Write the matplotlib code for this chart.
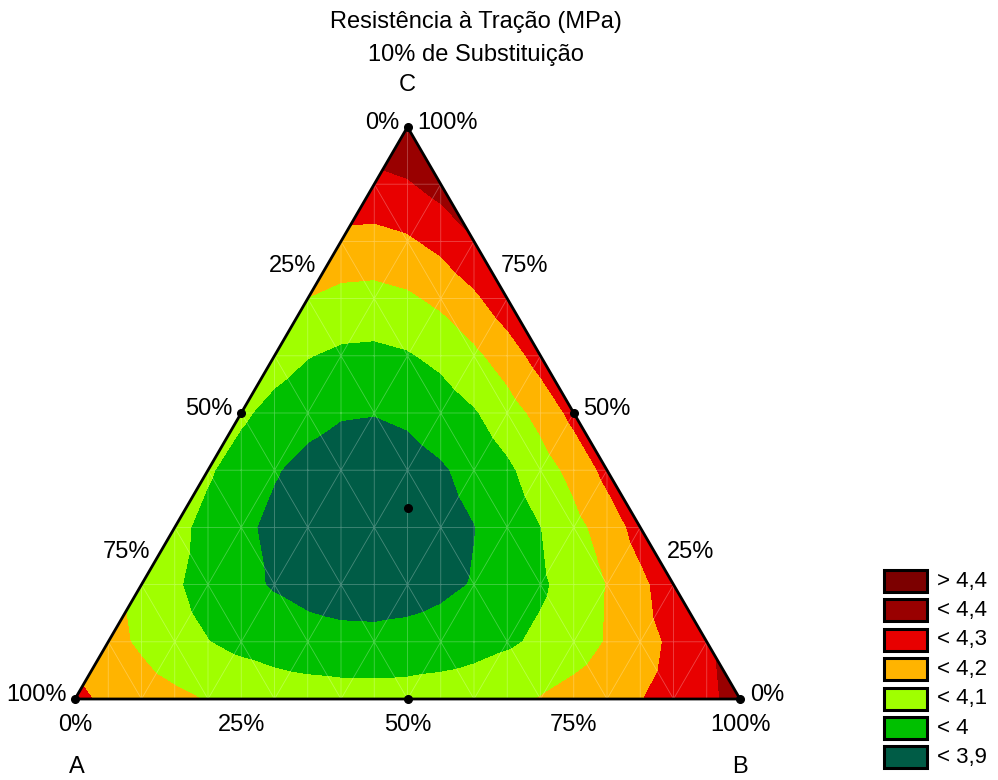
import numpy as np
import matplotlib.pyplot as plt
import matplotlib.tri as mtri
from matplotlib.patches import Rectangle

plt.rcParams['font.family'] = ['Liberation Sans', 'DejaVu Sans']

# Mixture design (simplex centroid): proportions of A, B, C and measured response
comp_A = [1.0, 0.0, 0.0, 0.5, 0.5, 0.0, 1 / 3]
comp_B = [0.0, 1.0, 0.0, 0.5, 0.0, 0.5, 1 / 3]
comp_C = [0.0, 0.0, 1.0, 0.0, 0.5, 0.5, 1 / 3]
resistencia = [4.22, 4.33, 4.39, 4.045, 4.018, 4.228, 3.847]

# Contour classes (lowest first)
levels = [3.9, 4.0, 4.1, 4.2, 4.3, 4.4]
level_colors = ['#005c46', '#00c000', '#a0ff00', '#ffb400', '#e80000', '#990000', '#7c0000']
legend_labels = ['< 3,9', '< 4', '< 4,1', '< 4,2', '< 4,3', '< 4,4', '> 4,4']

axis_ticks = [0.0, 0.25, 0.5, 0.75, 1.0]
tick_text = ['0%', '25%', '50%', '75%', '100%']

H = np.sqrt(3) / 2


def to_xy(a, b, c):
    b = np.asarray(b, float)
    c = np.asarray(c, float)
    return b + c / 2, c * H


def model_matrix(a, b, c):
    a, b, c = (np.asarray(v, float) for v in (a, b, c))
    return np.column_stack([a, b, c, a * b, a * c, b * c, a * b * c])


# special cubic fit
coef, *_ = np.linalg.lstsq(model_matrix(comp_A, comp_B, comp_C),
                           np.array(resistencia), rcond=None)

# triangular grid: rows every 1/10 of height, columns every 1/20 of width
pts = {}
px, py = [], []
for k in range(11):
    for j in range(k, 21 - k):
        pts[(j, k)] = len(px)
        px.append(j * 0.05)
        py.append(k * H / 10)
px = np.array(px)
py = np.array(py)

tris = []
for k in range(10):
    tris.append([pts[(k, k)], pts[(k + 1, k)], pts[(k + 1, k + 1)]])
    tris.append([pts[(20 - k, k)], pts[(19 - k, k + 1)], pts[(19 - k, k)]])
    for j in range(k + 1, 19 - k):
        p00, p10 = pts[(j, k)], pts[(j + 1, k)]
        p01, p11 = pts[(j, k + 1)], pts[(j + 1, k + 1)]
        if (j - k) % 2 == 0:
            tris += [[p00, p10, p11], [p00, p11, p01]]
        else:
            tris += [[p00, p10, p01], [p10, p11, p01]]
tri = mtri.Triangulation(px, py, np.array(tris))

gC = py / H
gB = px - gC / 2
gA = 1 - gB - gC
z = model_matrix(gA, gB, gC) @ coef

fig = plt.figure(figsize=(9.98, 7.80), dpi=100)
ax = fig.add_axes([0, 0, 1, 1])
ax.set_xlim(-75 / 665, 923 / 665)
ax.set_ylim(-81 / 660.5, 699 / 660.5)
ax.axis('off')

bounds = [min(z.min(), levels[0]) - 1] + levels + [max(z.max(), levels[-1]) + 1]
ax.tricontourf(tri, z, levels=bounds, colors=level_colors)
ax.triplot(tri, color='white', lw=0.6, alpha=0.28)

# triangle outline
ox, oy = to_xy([1, 0, 0, 1], [0, 1, 0, 0], [0, 0, 1, 0])
ax.plot(ox, oy, color='black', lw=2.0, solid_joinstyle='miter', clip_on=False)

# design points
dx, dy = to_xy(comp_A, comp_B, comp_C)
ax.plot(dx, dy, 'o', color='black', ms=5.5, clip_on=False, zorder=5)

fs = 17
# A axis (left edge)
for v, t in zip(axis_ticks[1:], tick_text[1:]):
    x, y = to_xy(v, 0, 1 - v)
    ax.annotate(t, (x, y), xytext=(-6, 3), textcoords='offset points',
                ha='right', va='center', fontsize=fs)
# C axis (right edge)
for v, t in zip(axis_ticks, tick_text):
    x, y = to_xy(0, 1 - v, v)
    ax.annotate(t, (x, y), xytext=(7, 3), textcoords='offset points',
                ha='left', va='center', fontsize=fs)
# B axis (bottom edge)
for v, t in zip(axis_ticks, tick_text):
    x, y = to_xy(1 - v, v, 0)
    ax.annotate(t, (x, y), xytext=(0, -19), textcoords='offset points',
                ha='center', va='center', fontsize=fs)
# 0% of A at the C corner
x, y = to_xy(0, 0, 1)
ax.annotate('0%', (x, y), xytext=(-6, 3), textcoords='offset points',
            ha='right', va='center', fontsize=fs)

# component names
for name, (a, b, c), off in [('A', (1, 0, 0), (1, -49)), ('B', (0, 1, 0), (0, -49)),
                             ('C', (0, 0, 1), (0, 30))]:
    x, y = to_xy(a, b, c)
    ax.annotate(name, (x, y), xytext=off, textcoords='offset points',
                ha='center', va='center', fontsize=fs)

fig.text(476 / 998, 1 - 22 / 780, 'Resistência à Tração (MPa)', ha='center', va='center', fontsize=fs)
fig.text(476 / 998, 1 - 55 / 780, '10% de Substituição', ha='center', va='center', fontsize=fs)

# legend, highest class on top
W, Hf = 998, 780
for i, (col, lab) in enumerate(zip(level_colors[::-1], legend_labels[::-1])):
    top = 570 + i * 29.4
    fig.patches.append(Rectangle((884 / W, 1 - (top + 22) / Hf), 43 / W, 22 / Hf,
                                 transform=fig.transFigure, facecolor=col,
                                 edgecolor='black', lw=2.2))
    fig.text(937 / W, 1 - (top + 11) / Hf, lab, ha='left', va='center', fontsize=16)

fig.savefig('out.png', dpi=100)
